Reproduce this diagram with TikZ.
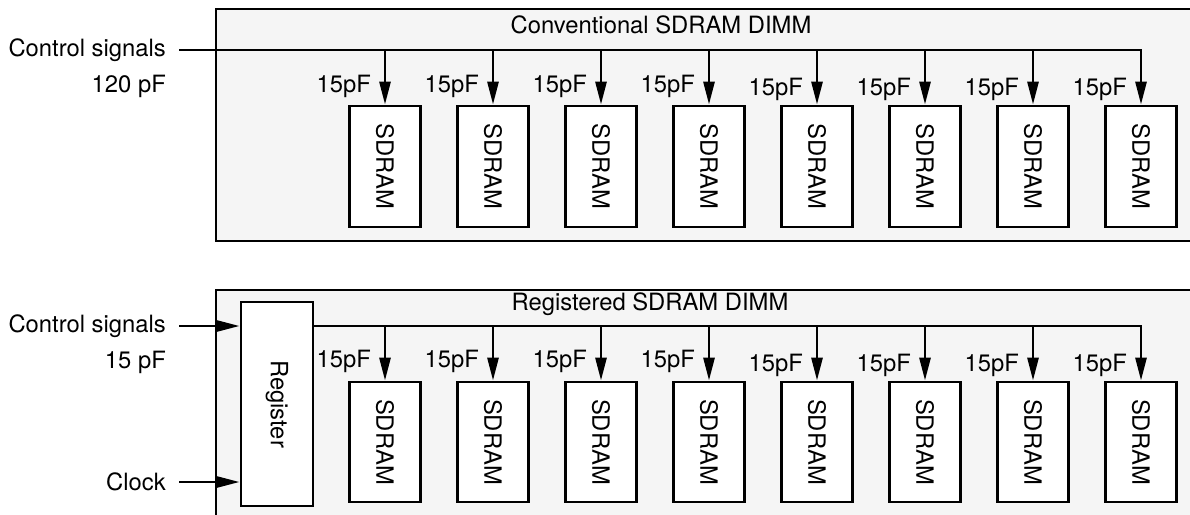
\documentclass[tikz,border=0pt]{standalone}
\usepackage{fontspec}
\setmainfont{TeX Gyre Heros}
\usetikzlibrary{arrows.meta}
\begin{document}
\begin{tikzpicture}[x=1pt,y=-1pt,
  wire/.style={line width=2.8pt},
  feed/.style={wire,-{Triangle[length=23pt,width=11pt]}},
  panel/.style={draw,line width=2.8pt,fill=black!4},
  chip/.style={draw,line width=2.8pt,fill=white,minimum width=71pt,inner sep=0pt},
  lbl/.style={font=\fontsize{23.8}{28}\selectfont,inner sep=0pt}
]
\useasboundingbox (0,0) rectangle (1190,514);

% module outlines
\begin{scope}
  \clip (0,0) rectangle (1190,514);
  \draw[panel] (216,9) rectangle (1210,241);
  \draw[panel] (216,290) rectangle (1210,540);
\end{scope}

\node[lbl,anchor=base] (titleA) at (661,33) {Conventional SDRAM DIMM};
\node[lbl,anchor=base] (titleB) at (650,310) {Registered SDRAM DIMM};

% external signals
\node[lbl,anchor=east] (ctlA) at (166,50) {Control signals};
\node[lbl,anchor=base east] (capA) at (166,92) {120 pF};
\node[lbl,anchor=east] (ctlB) at (166,326) {Control signals};
\node[lbl,anchor=base east] (capB) at (166,368) {15 pF};
\node[lbl,anchor=east] (clk) at (166,482) {Clock};

\coordinate (inA) at (179,50);
\coordinate (inB) at (179,326);
\coordinate (inC) at (179,482);

% register
\node[chip,minimum width=72pt,minimum height=204pt] (reg) at (277,404) {};
\node[lbl,rotate=-90] (regtxt) at (reg.center) {Register};

\coordinate (regIn) at (reg.west |- inB);
\coordinate (regClk) at (reg.west |- inC);
\coordinate (regOut) at (reg.east |- inB);

\draw[feed] (inB) -- (regIn);
\draw[feed] (inC) -- (regClk);

% SDRAM chips and their feeds
\foreach \i in {1,...,8} {
  \pgfmathsetmacro\cx{385+108*(\i-1)}
  \ifnum\i<5 \def\ya{92}\def\yb{367}\else \def\ya{95}\def\yb{371}\fi
  \node[chip,minimum height=121pt] (a\i) at (\cx,166.5) {};
  \node[lbl,rotate=-90] (at\i) at (a\i.center) {SDRAM};
  \node[chip,minimum height=120pt] (b\i) at (\cx,442) {};
  \node[lbl,rotate=-90] (bt\i) at (b\i.center) {SDRAM};
  \coordinate (ta\i) at (\cx,50);
  \coordinate (tb\i) at (\cx,326);
  \draw[feed] (ta\i) -- (a\i.north);
  \draw[feed] (tb\i) -- (b\i.north);
  \node[lbl,anchor=base east] (ca\i) at (\cx-14,\ya) {15pF};
  \node[lbl,anchor=base east] (cb\i) at (\cx-14,\yb) {15pF};
}

% buses
\draw[wire,line join=miter] (inA) -- (ta8) -- ++(0,1.4);
\draw[wire,line join=miter] (regOut) -- (tb8) -- ++(0,1.4);
\end{tikzpicture}
\end{document}
